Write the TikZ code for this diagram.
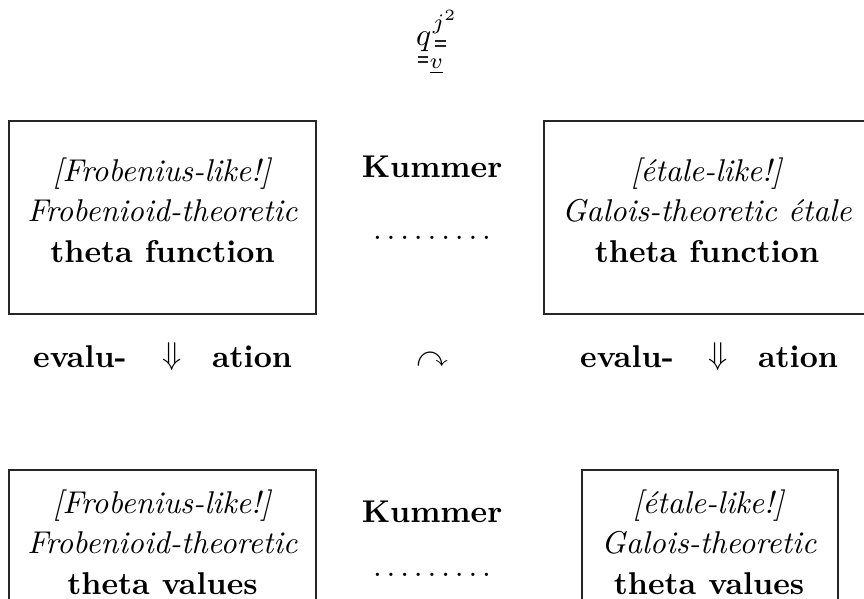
\documentclass[tikz,border=0pt]{standalone}
\usepackage{amssymb}
\newcommand\spreaddots{.\kern1.55pt.\kern1.55pt.\kern1.55pt.\kern1.55pt.\kern1.55pt.\kern1.55pt.\kern1.55pt.\kern1.55pt.}
\begin{document}
\begin{tikzpicture}[x=1pt,y=-1pt,
  frame/.style={draw=black!85, line width=1.2pt, inner sep=0pt, outer sep=0pt},
  txt/.style={scale=3.15, align=center, inner sep=0pt, font=\fontsize{10}{12.9}\selectfont},
  btxt/.style={txt, font=\fontsize{10}{12.9}\selectfont\bfseries},
  mth/.style={scale=3.15, inner sep=0pt},
  rule/.style={line width=1.5pt, black!85}]
\useasboundingbox (0,0) rectangle (864,599);
\clip (0,0) rectangle (864,599);
% formula at the top
\node[mth, anchor=base east] (q) at (432,45.5) {$q$};
\node[mth, anchor=base west] (j) at (432,30) {$\scriptstyle j^{2}$};
\node[mth, anchor=base west] (v) at (429,69) {$\scriptstyle\underline{v}$};
\draw[rule] (435,41) -- (446,41) (435,46) -- (446,46);
\draw[rule] (418,57) -- (428,57) (418,62) -- (428,62);
% boxes
\node[frame, minimum width=307pt, minimum height=193pt] (tlbox) at (162.5,217.5) {};
\node[frame, minimum width=336pt, minimum height=193pt] (trbox) at (712,217.5) {};
\node[frame, minimum width=307pt, minimum height=150pt] (blbox) at (162.5,545) {};
\node[frame, minimum width=256pt, minimum height=150pt] (brbox) at (710,545) {};
% box texts
\node[txt] (tltext) at (162.5,210) {\textit{[Frobenius-like!]}\\\textit{Frobenioid-theoretic}\\\textbf{theta function}};
\node[txt] (trtext) at (707,210) {\textit{[\'etale-like!]}\\\textit{Galois-theoretic \'etale}\\\textbf{theta function}};
\node[txt] (bltext) at (162.5,542) {\textit{[Frobenius-like!]}\\\textit{Frobenioid-theoretic}\\\textbf{theta values}};
\node[txt] (brtext) at (709,542) {\textit{[\'etale-like!]}\\\textit{Galois-theoretic}\\\textbf{theta values}};
% middle column
\node[btxt] (k1) at (432,167) {Kummer};
\node[txt] (d1) at (432,238) {\spreaddots};
\node[btxt] (k2) at (432,512) {Kummer};
\node[txt] (d2) at (432,575) {\spreaddots};
% evaluation row
\node[btxt] (e1) at (80,357) {evalu-};
\node[txt] (a1) at (172,357) {$\Downarrow$};
\node[btxt] (t1) at (252,357) {ation};
\node[txt] (c) at (432,360) {$\curvearrowright$};
\node[btxt] (e2) at (627,357) {evalu-};
\node[txt] (a2) at (718,357) {$\Downarrow$};
\node[btxt] (t2) at (798,357) {ation};
\end{tikzpicture}
\end{document}
